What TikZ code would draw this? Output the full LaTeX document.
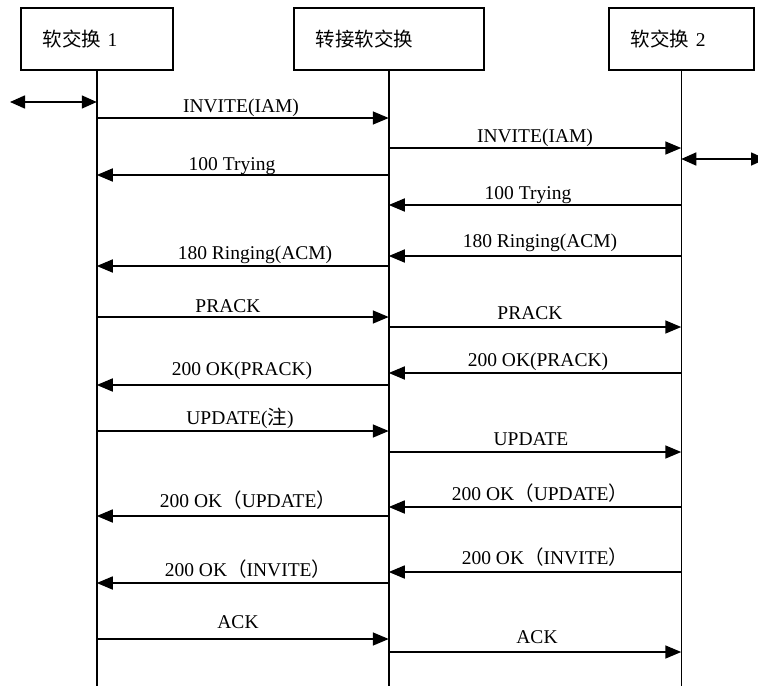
\documentclass[tikz,border=0pt]{standalone}
\usepackage{fontspec}
\setmainfont{Liberation Serif}
\newfontfamily\cjk{Noto Sans CJK SC}
\usetikzlibrary{arrows.meta}
\begin{document}
\begin{tikzpicture}[x=1pt,y=-1pt,
  every node/.style={font=\fontsize{19.5}{22}\selectfont},
  box/.style={draw, line width=1.5pt, minimum height=62pt, inner xsep=22pt, inner ysep=0pt, align=left, anchor=north west},
  life/.style={line width=1.5pt},
  msg/.style={line width=1.6pt, -{Triangle[length=16pt,width=13pt]}},
  dbl/.style={line width=1.6pt, {Triangle[length=15pt,width=13pt]}-{Triangle[length=15pt,width=13pt]}},
  lab/.style={anchor=base, inner sep=0pt}]
\useasboundingbox (0,0) rectangle (758,686);
% participants
\node[box, text width=108pt] (A) at (20,7) {{\cjk 软交换} 1};
\node[box, text width=146pt] (B) at (293,7) {{\cjk 转接软交换}};
\node[box, text width=101pt] (C) at (608,7) {{\cjk 软交换} 2};
% lifelines
\coordinate (Aend) at (A.south |- 0,686);
\coordinate (Bend) at (B.south |- 0,686);
\coordinate (Cend) at (C.south |- 0,686);
\draw[life] (A.south) -- (Aend);
\draw[life] (B.south) -- (Bend);
\draw[life] (C.south) -- (Cend);
% outer double arrows
\coordinate (Lout) at (10,102);
\coordinate (Rout) at (766,159);
\draw[dbl] (Lout) -- (A.south |- 0,102);
\draw[dbl] (C.south |- 0,159) -- (Rout);
% messages
\draw[msg] (A.south |- 0,118) -- (B.south |- 0,118);
\node[lab] (m1) at (241,112) {INVITE(IAM)};
\draw[msg] (B.south |- 0,148) -- (C.south |- 0,148);
\node[lab] (m2) at (535,142) {INVITE(IAM)};
\draw[msg] (B.south |- 0,175) -- (A.south |- 0,175);
\node[lab] (m3) at (232,170) {100 Trying};
\draw[msg] (C.south |- 0,205) -- (B.south |- 0,205);
\node[lab] (m4) at (528,199) {100 Trying};
\draw[msg] (C.south |- 0,256) -- (B.south |- 0,256);
\node[lab] (m5) at (540,247) {180 Ringing(ACM)};
\draw[msg] (B.south |- 0,266) -- (A.south |- 0,266);
\node[lab] (m6) at (255,259) {180 Ringing(ACM)};
\draw[msg] (A.south |- 0,317) -- (B.south |- 0,317);
\node[lab] (m7) at (228,312) {PRACK};
\draw[msg] (B.south |- 0,327) -- (C.south |- 0,327);
\node[lab] (m8) at (530,319) {PRACK};
\draw[msg] (C.south |- 0,373) -- (B.south |- 0,373);
\node[lab] (m9) at (538,366) {200 OK(PRACK)};
\draw[msg] (B.south |- 0,385) -- (A.south |- 0,385);
\node[lab] (m10) at (242,375) {200 OK(PRACK)};
\draw[msg] (A.south |- 0,431) -- (B.south |- 0,431);
\node[lab] (m11) at (240,424) {UPDATE({\cjk 注})};
\draw[msg] (B.south |- 0,452) -- (C.south |- 0,452);
\node[lab] (m12) at (531,445) {UPDATE};
\draw[msg] (C.south |- 0,507) -- (B.south |- 0,507);
\node[lab] (m13) at (540,500) {200 OK{\cjk （}UPDATE{\cjk ）}};
\draw[msg] (B.south |- 0,516) -- (A.south |- 0,516);
\node[lab] (m14) at (248,507) {200 OK{\cjk （}UPDATE{\cjk ）}};
\draw[msg] (C.south |- 0,572) -- (B.south |- 0,572);
\node[lab] (m15) at (545,564) {200 OK{\cjk （}INVITE{\cjk ）}};
\draw[msg] (B.south |- 0,583) -- (A.south |- 0,583);
\node[lab] (m16) at (248,576) {200 OK{\cjk （}INVITE{\cjk ）}};
\draw[msg] (A.south |- 0,639) -- (B.south |- 0,639);
\node[lab] (m17) at (238,628) {ACK};
\draw[msg] (B.south |- 0,652) -- (C.south |- 0,652);
\node[lab] (m18) at (537,643) {ACK};
\end{tikzpicture}
\end{document}
